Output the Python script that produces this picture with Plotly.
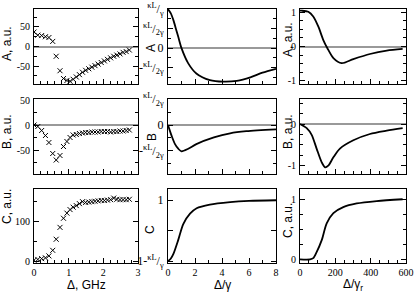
import plotly.graph_objects as go
from plotly.subplots import make_subplots

# ---------------- data ----------------
# measured detuning (GHz), column 1
delta_ghz = [0.0, 0.11, 0.22, 0.33, 0.43, 0.54, 0.64, 0.75, 0.85, 0.95, 1.04, 1.13, 1.22, 1.31, 1.40,
             1.49, 1.58, 1.67, 1.76, 1.85, 1.94, 2.03, 2.12, 2.21, 2.30, 2.39, 2.48, 2.57, 2.66, 2.75]
meas_A = [37, 29, 28, 25, 23, 13, -25, -62, -82, -87, -89, -84, -78, -72, -66,
          -61, -57, -53, -49, -45, -41, -37, -33, -29, -25, -22, -19, -15, -13, -9]
meas_B = [0, -3, -11, -21, -35, -57, -70, -61, -43, -33, -25, -20, -19, -17, -16,
          -15, -15, -14, -14, -14, -13, -13, -13, -14, -13, -13, -12, -12, -11, -10]
meas_C = [2, 4, 6, 8, 13, 27, 55, 85, 108, 121, 130, 136, 140, 145, 150,
          148, 149, 150, 151, 152, 153, 153, 154, 155, 159, 156, 155, 155, 155, 156]

# theory, column 2 (Delta/gamma), in units of kappaL/gamma
th_A_x = [0, 0.2, 0.4, 0.6, 0.76, 1.0, 1.5, 2.1, 3.1, 4.1, 5.1, 6.1, 7.0, 8.0]
th_A_y = [1.0, 0.9, 0.72, 0.48, 0.29, 0.0, -0.39, -0.65, -0.82, -0.86, -0.84, -0.75, -0.63, -0.53]
th_B_x = [0, 0.27, 0.52, 0.76, 1.0, 1.5, 2.1, 3.4, 4.6, 5.8, 8.0]
th_B_y = [0, -0.21, -0.37, -0.46, -0.51, -0.46, -0.37, -0.24, -0.16, -0.12, -0.085]
th_C_x = [0, 0.2, 0.4, 0.76, 1.13, 1.63, 2.12, 3.1, 4.6, 6.0, 8.0]
th_C_y = [0, 0.04, 0.12, 0.35, 0.61, 0.78, 0.87, 0.93, 0.97, 0.99, 1.0]

# model, column 3 (Delta/gamma_r)
md_A_x = [0, 9, 47, 75, 104, 132, 155, 189, 236, 302, 396, 491, 581]
md_A_y = [1.05, 1.05, 1.02, 0.88, 0.58, 0.19, -0.05, -0.34, -0.49, -0.37, -0.22, -0.12, -0.07]
md_B_x = [0, 38, 66, 94, 123, 142, 160, 189, 226, 302, 396, 491, 581]
md_B_y = [0, -0.1, -0.26, -0.59, -0.92, -1.04, -1.0, -0.8, -0.59, -0.39, -0.24, -0.16, -0.1]
md_C_x = [0, 57, 75, 94, 123, 151, 189, 245, 321, 434, 581]
md_C_y = [0, 0.0, 0.02, 0.12, 0.32, 0.6, 0.77, 0.87, 0.93, 0.97, 1.0]

W, H = 415, 293
SERIF = "Liberation Serif"
SANS = "Liberation Sans"

fig = make_subplots(rows=3, cols=3)

mk = dict(symbol="x-thin", size=5, color="black", line=dict(width=1, color="black"))
for r, ys in enumerate([meas_A, meas_B, meas_C], start=1):
    fig.add_trace(go.Scatter(x=delta_ghz, y=ys, mode="markers", marker=mk, showlegend=False), row=r, col=1)

ln = dict(color="black", width=1.8, shape="spline", smoothing=0.8)
for r, (xs, ys) in enumerate([(th_A_x, th_A_y), (th_B_x, th_B_y), (th_C_x, th_C_y)], start=1):
    fig.add_trace(go.Scatter(x=xs, y=ys, mode="lines", line=ln, showlegend=False), row=r, col=2)
for r, (xs, ys) in enumerate([(md_A_x, md_A_y), (md_B_x, md_B_y), (md_C_x, md_C_y)], start=1):
    fig.add_trace(go.Scatter(x=xs, y=ys, mode="lines", line=ln, showlegend=False), row=r, col=3)

# domains in pixels
col_px = [(34, 138), (168, 276), (300, 406)]
row_px = [(9, 84), (99, 174), (189, 263)]

frac = lambda t: "<sup>κL</sup>/<sub>" + t + "</sub>"

yspec = {
    (1, 1): dict(range=[-96, 96], tickvals=[-50, 0, 50], ticktext=["-50", "0", "50"], minor=25, zero=True),
    (2, 1): dict(range=[-98, 52], tickvals=[-50, 0, 50], ticktext=["-50", "0", "50"], minor=25, zero=True),
    (3, 1): dict(range=[-5, 182], tickvals=[0, 100], ticktext=["0", "100"], minor=50, zero=False),
    (1, 2): dict(range=[-0.92, 1.005], tickvals=[1, 0.5, 0, -0.5],
                 ticktext=[frac("γ"), frac("2γ"), "0", "-" + frac("2γ")], minor=0.25, zero=True),
    (2, 2): dict(range=[-0.95, 0.505], tickvals=[0.5, 0, -0.5],
                 ticktext=[frac("2γ"), "0", "-" + frac("2γ")], minor=0.25, zero=True),
    (3, 2): dict(range=[-0.03, 1.185], tickvals=[0, 0.5, 1],
                 ticktext=["1-" + frac("γ"), " ", "1"], minor=0.5, zero=False),
    (1, 3): dict(range=[-1.1, 1.1], tickvals=[-1, 0, 1], ticktext=["-1", "0", "1"], minor=0.25, zero=True),
    (2, 3): dict(range=[-1.2, 0.6], tickvals=[-1, 0], ticktext=["-1", "0"], minor=0.25, zero=True),
    (3, 3): dict(range=[-0.06, 1.17], tickvals=[0, 1], ticktext=["0", "1"], minor=0.25, zero=False),
}
xspec = {
    1: dict(range=[0, 3], dtick=1, minor=0.2),
    2: dict(range=[0, 8], dtick=2, minor=1),
    3: dict(range=[0, 600], dtick=200, minor=50),
}

tickfont = dict(family=SERIF, size=10, color="black")
for r in range(1, 4):
    for c in range(1, 4):
        idx = (r - 1) * 3 + c
        xs = xspec[c]
        ysp = yspec[(r, c)]
        xname = "xaxis" if idx == 1 else f"xaxis{idx}"
        yname = "yaxis" if idx == 1 else f"yaxis{idx}"
        x0, x1 = col_px[c - 1]
        t0, t1 = row_px[r - 1]
        fig.layout[xname].update(
            domain=[x0 / W, x1 / W], range=xs["range"], dtick=xs["dtick"], tick0=0,
            showline=True, linecolor="black", linewidth=1, mirror=True,
            ticks="inside", ticklen=5, tickcolor="black", tickwidth=1,
            minor=dict(dtick=xs["minor"], tick0=0, ticks="inside", ticklen=3, tickcolor="black"),
            showgrid=False, zeroline=False, showticklabels=(r == 3), tickfont=tickfont,
            ticklabelstandoff=0, automargin=False,
        )
        fig.layout[yname].update(
            domain=[1 - t1 / H, 1 - t0 / H], range=ysp["range"],
            tickmode="array", tickvals=ysp["tickvals"], ticktext=ysp["ticktext"],
            showline=True, linecolor="black", linewidth=1, mirror="ticks",
            ticks="inside", ticklen=5, tickcolor="black", tickwidth=1,
            minor=dict(dtick=ysp["minor"], tick0=0, ticks="inside", ticklen=3, tickcolor="black"),
            showgrid=False, zeroline=ysp["zero"], zerolinecolor="#999999", zerolinewidth=2,
            tickfont=dict(family=SERIF, size=(12 if c == 2 else 10), color="black"),
            ticklabelstandoff=1, automargin=False,
        )

annots = [
    ("A, a.u.", 7, 44, -90), ("B, a.u.", 7, 132, -90), ("C, a.u.", 7, 207, -90),
    ("A", 151, 48, -90), ("B", 152, 137, -90), ("C", 150, 230, -90),
    ("A, a.u.", 288, 40, -90), ("B, a.u.", 288, 132, -90), ("C, a.u.", 288, 221, -90),
    ("Δ, GHz", 86, 285, 0), ("Δ/γ", 222, 285, 0), ("Δ/γ<sub>r</sub>", 353, 285, 0),
]
for text, px, py, ang in annots:
    fig.add_annotation(text=text, x=px / W, y=1 - py / H, xref="paper", yref="paper",
                       xanchor="center", yanchor="middle", textangle=ang, showarrow=False,
                       font=dict(family=SANS, size=12, color="black"))

fig.update_layout(width=W, height=H, margin=dict(l=0, r=0, t=0, b=0),
                  paper_bgcolor="white", plot_bgcolor="white")
fig.write_html("out.html", config={"displayModeBar": False},
               post_script="document.body.style.margin='0';document.body.style.padding='0';"
                           "document.body.style.overflow='hidden';")
